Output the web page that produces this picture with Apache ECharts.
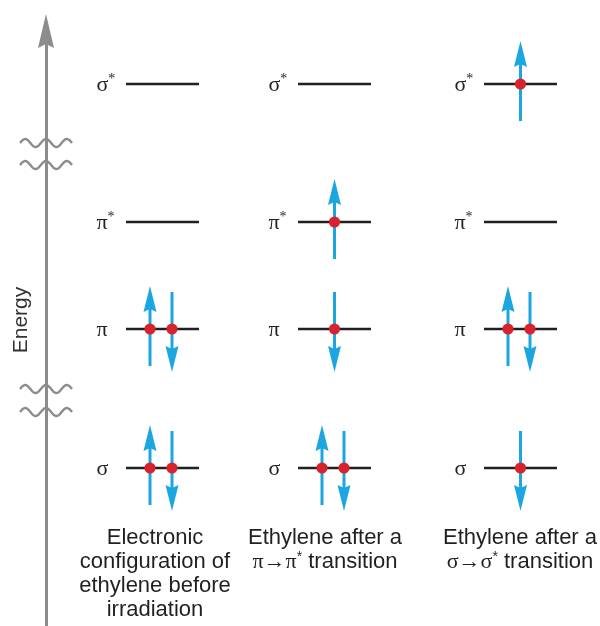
<!DOCTYPE html>
<html><head><meta charset="utf-8">
<script src="https://cdn.jsdelivr.net/npm/echarts@6/dist/echarts.min.js"></script>
<style>html,body{margin:0;padding:0;background:#fff}#c{width:600px;height:626px}</style>
</head><body><div id="c"></div>
<script>
// ---- data ----
const columnLabels = [
  'Electronic\nconfiguration of\nethylene before\nirradiation',
  'Ethylene after a\n{g|π→π}{s|*} transition',
  'Ethylene after a\n{g|σ→σ}{s|*} transition'
];
const levelNames = ['σ', 'π', 'π{s|*}', 'σ{s|*}'];
const levelEnergy = [158, 297, 404, 542];      // arbitrary energy units
const breakEnergy = [483, 461, 237, 214];      // axis break marks
// electrons per column, per level (σ, π, π*, σ*)
const occupancy = [
  [['up', 'down'], ['up', 'down'], [], []],
  [['up', 'down'], ['down'], ['up'], []],
  [['down'], ['up', 'down'], [], ['up']]
];

// ---- layout ----
const columnX = [162.5, 334.5, 520.5];
const labelX = [155, 325, 520];
const labelTop = 100;
const LINE = '#231f20', BLUE = '#1ba6e2', RED = '#d8232f', GREY = '#8c8c8e';
const SERIF = '"Liberation Serif", "DejaVu Serif", serif';
const SANS = '"Liberation Sans", Arial, sans-serif';

const levelData = [];
occupancy.forEach((col, c) => col.forEach((_, l) => levelData.push([c, l])));
const electronData = [];
occupancy.forEach((col, c) => col.forEach((arr, l) => arr.forEach((spin, k) =>
  electronData.push([c, l, k, arr.length, spin === 'up' ? 1 : -1]))));

const chart = echarts.init(document.getElementById('c'));
chart.setOption({
  animation: false,
  grid: {left: 0, right: 0, top: 31, bottom: 0},
  xAxis: {type: 'value', min: 0, max: 600, show: false},
  yAxis: {
    type: 'value', min: 0, max: 595, position: 'left', offset: -46,
    name: 'Energy', nameLocation: 'middle', nameRotate: 90, nameGap: 14,
    nameTextStyle: {fontFamily: SANS, fontSize: 21, color: '#333', padding: [0, 0, 0, 17]},
    axisLine: {show: true, symbol: ['none', 'path://M8,0L16,34L8,30L0,34Z'], symbolSize: [16, 34],
      lineStyle: {color: GREY, width: 3}},
    axisTick: {show: false}, axisLabel: {show: false}, splitLine: {show: false}
  },
  series: [
    { // axis break squiggles
      type: 'custom', data: breakEnergy.map(v => [46, v]), silent: true,
      renderItem: (p, api) => {
        const pt = api.coord([api.value(0), api.value(1)]);
        const pts = [];
        for (let dx = -26; dx <= 26; dx += 0.5) pts.push([pt[0] + dx, pt[1] - 4 * Math.cos(2 * Math.PI * dx / 20.8)]);
        return {type: 'polyline', shape: {points: pts}, style: {stroke: GREY, lineWidth: 2.4, fill: null}};
      }
    },
    { // energy levels + labels
      type: 'custom', data: levelData, silent: true,
      renderItem: (p, api) => {
        const c = api.value(0), l = api.value(1);
        const pt = api.coord([columnX[c], levelEnergy[l]]);
        return {type: 'group', children: [
          {type: 'line', shape: {x1: pt[0] - 36.5, y1: pt[1], x2: pt[0] + 36.5, y2: pt[1]},
            style: {stroke: LINE, lineWidth: 2.6}},
          {type: 'text', x: pt[0] - 66, y: pt[1] + 1, style: {
            text: levelNames[l], align: 'left', verticalAlign: 'middle',
            font: '22px ' + SERIF, fill: LINE,
            rich: {s: {fontSize: 14, fontFamily: SERIF, fill: LINE, padding: [0, 0, 12, 0]}}}}
        ]};
      }
    },
    { // electrons
      type: 'custom', data: electronData, silent: true,
      renderItem: (p, api) => {
        const c = api.value(0), l = api.value(1), k = api.value(2), n = api.value(3), s = api.value(4);
        const pt = api.coord([columnX[c], levelEnergy[l]]);
        const x = pt[0] + (n === 2 ? (k === 0 ? -12.5 : 9.5) : 0);
        const cy = pt[1];
        const tail = cy + 37 * s, tip = cy - 43 * s;
        const hb = tip + 26 * s, notch = tip + 23 * s;
        return {type: 'group', children: [
          {type: 'line', shape: {x1: x, y1: tail, x2: x, y2: notch}, style: {stroke: BLUE, lineWidth: 3}},
          {type: 'polygon', shape: {points: [[x, tip], [x + 6.5, hb], [x, notch], [x - 6.5, hb]]},
            style: {fill: BLUE}},
          {type: 'circle', shape: {cx: x, cy: cy, r: 5.6}, style: {fill: RED}}
        ]};
      }
    },
    { // column captions
      type: 'custom', data: columnLabels.map((_, i) => [i]), silent: true,
      renderItem: (p, api) => {
        const i = api.value(0);
        const pt = api.coord([labelX[i], labelTop]);
        return {type: 'text', x: pt[0], y: pt[1], style: {
          text: columnLabels[i], align: 'center', verticalAlign: 'top',
          font: '22px ' + SANS, fill: LINE, lineHeight: 24,
          rich: {
            g: {fontFamily: SERIF, fontSize: 22, fill: LINE, lineHeight: 24},
            s: {fontFamily: SANS, fontSize: 14, fill: LINE, lineHeight: 24, padding: [0, 0, 10, 0]}
          }}};
      }
    }
  ]
});
</script></body></html>
